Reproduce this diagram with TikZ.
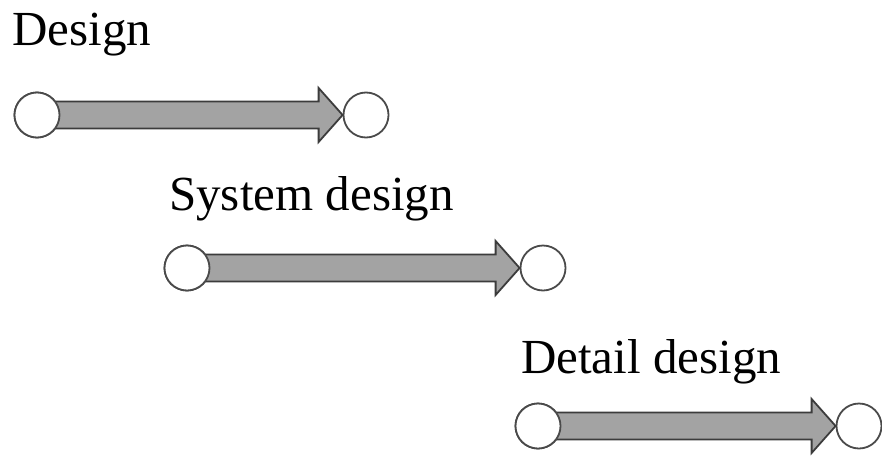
\documentclass[tikz,border=0pt]{standalone}
\usepackage{fontspec}
\setmainfont{Liberation Serif}
\usetikzlibrary{calc}
\definecolor{ringline}{HTML}{4A4A4A}
\definecolor{shaftfill}{HTML}{A3A3A3}
\definecolor{shaftline}{HTML}{3C3C3C}
\tikzset{
  stage/.style={circle, draw=ringline, fill=white, line width=1.8pt,
                minimum size=45pt, inner sep=0pt},
  phase/.style={anchor=base west, inner sep=0pt, font=\fontsize{49}{55}\selectfont},
  shaft/.style={fill=shaftfill, draw=shaftline, line width=1.8pt, line join=miter}
}
% block arrow from the east side of #1 to the west side of #2
\newcommand{\blockarrow}[2]{%
  \draw[shaft]
    ($(#1.center)+(0,13.5)$) --
    ($(#2.west)+(-24,13.5)$) --
    ($(#2.west)+(-24,27)$) --
    (#2.west) --
    ($(#2.west)+(-24,-27)$) --
    ($(#2.west)+(-24,-13.5)$) --
    ($(#1.center)+(0,-13.5)$) -- cycle;
  \node[stage] at (#1) {};
}
\begin{document}
\begin{tikzpicture}[x=1pt, y=-1pt]
  \useasboundingbox (0,0) rectangle (882,455);

  % design
  \node[phase] (t1) at (12,45) {Design};
  \node[stage] (a1) at (37,115) {};
  \node[stage] (b1) at (366,115) {};
  \blockarrow{a1}{b1}

  % system design
  \node[phase] (t2) at (169,210) {System design};
  \node[stage] (a2) at (187,268) {};
  \node[stage] (b2) at (543,268) {};
  \blockarrow{a2}{b2}

  % detail design
  \node[phase] (t3) at (521,373) {Detail design};
  \node[stage] (a3) at (538,426) {};
  \node[stage] (b3) at (859,426) {};
  \blockarrow{a3}{b3}
\end{tikzpicture}
\end{document}
